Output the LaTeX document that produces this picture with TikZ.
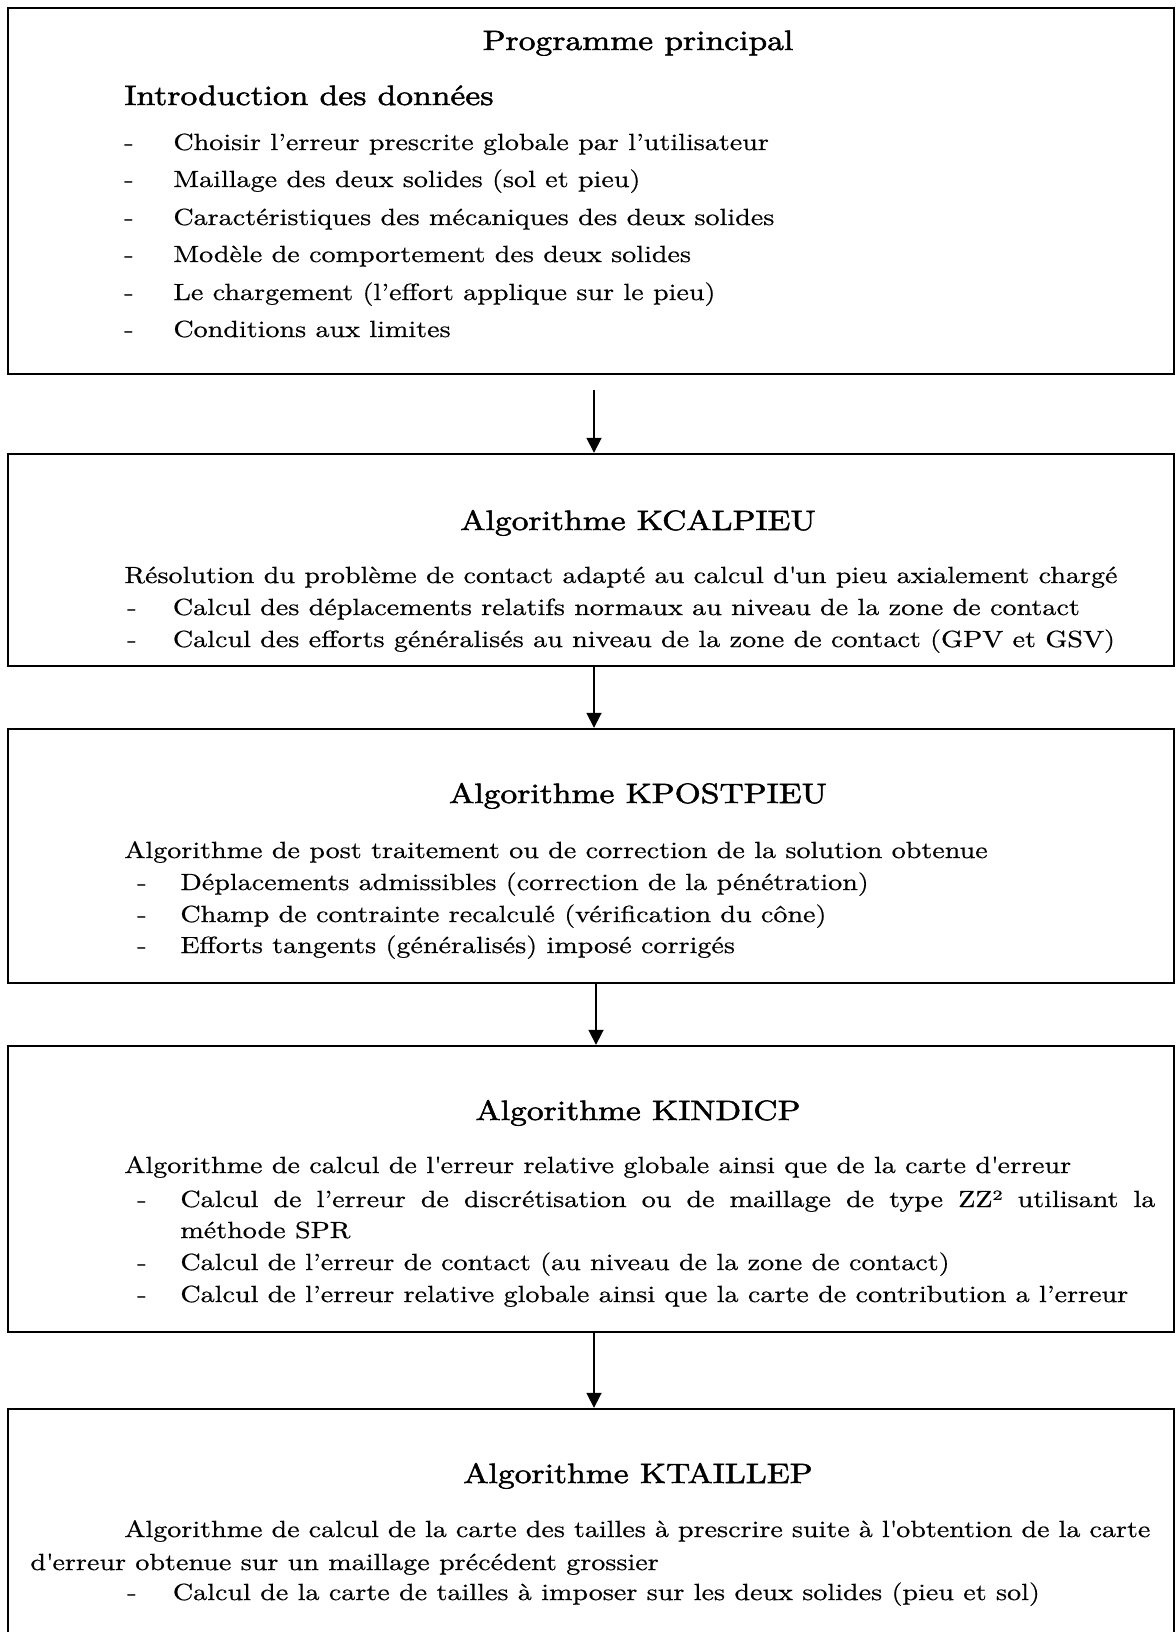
\documentclass[tikz,border=0pt]{standalone}
\usepackage{fontspec}
\setmainfont{lmroman10-regular.otf}[FakeStretch=1.2,FakeBold=0.6]
\newfontfamily\fonttitre{lmroman10-regular.otf}[FakeStretch=1.2,FakeBold=1.8]
\usetikzlibrary{arrows.meta,calc,fit}

\newcommand{\puce}[1]{\makebox[#1][l]{-}}
\newcommand{\apos}{\textquotesingle}

\begin{document}
\begin{tikzpicture}[x=0.5pt,y=-0.5pt,
    box/.style={draw,line width=1.2pt,inner sep=0pt},
    titre/.style={anchor=base,inner sep=0pt,font=\fonttitre\fontsize{14}{17}\selectfont},
    ligne/.style={anchor=base west,inner sep=0pt,font=\fontsize{11.7}{14}\selectfont},
    fleche/.style={-{Triangle[width=7.5pt,length=7.5pt]},line width=0.9pt}]
  \useasboundingbox (0,0) rectangle (1176,1632);
  \clip (0,0) rectangle (1176,1632);

  % les cinq cadres
  \node[box,fit={(8,8) (1174,374)}] (B1) {};
  \node[box,fit={(8,454) (1174,666)}] (B2) {};
  \node[box,fit={(8,729) (1174,983)}] (B3) {};
  \node[box,fit={(8,1046) (1174,1332)}] (B4) {};
  \node[box,fit={(8,1409) (1174,1680)}] (B5) {};

  % programme principal
  \node[titre] (T1) at (638,50) {Programme principal};
  \node[ligne,font=\fonttitre\fontsize{14}{17}\selectfont] (S1) at (124,105) %
    {Introduction des données};
  \node[ligne] (L11) at (124,150) %
    {\puce{24.5pt}Choisir l’erreur prescrite globale par l’utilisateur};
  \node[ligne] (L12) at (124,187) %
    {\puce{24.5pt}Maillage des deux solides (sol et pieu)};
  \node[ligne] (L13) at (124,225) %
    {\puce{24.5pt}Caractéristiques des mécaniques des deux solides};
  \node[ligne] (L14) at (124,262) %
    {\puce{24.5pt}Modèle de comportement des deux solides};
  \node[ligne] (L15) at (124,300) %
    {\puce{24.5pt}Le chargement (l’effort applique sur le pieu)};
  \node[ligne] (L16) at (124,337) %
    {\puce{24.5pt}Conditions aux limites};

  % KCALPIEU
  \node[titre] (T2) at (638,530) {Algorithme KCALPIEU};
  \node[ligne] (L20) at (124,583) %
    {Résolution du problème de contact adapté au calcul d\apos un pieu axialement chargé};
  \node[ligne] (L21) at (127,615) %
    {\puce{22.75pt}Calcul des déplacements relatifs normaux au niveau de la zone de contact};
  \node[ligne] (L22) at (127,647) %
    {\puce{22.75pt}Calcul des efforts généralisés au niveau de la zone de contact (GPV et GSV)};

  % KPOSTPIEU
  \node[titre] (T3) at (638,803) {Algorithme KPOSTPIEU};
  \node[ligne] (L30) at (124,858) %
    {Algorithme de post traitement ou de correction de la solution obtenue};
  \node[ligne] (L31) at (137,890) %
    {\puce{21.5pt}Déplacements admissibles (correction de la pénétration)};
  \node[ligne] (L32) at (137,922) %
    {\puce{21.5pt}Champ de contrainte recalculé (vérification du cône)};
  \node[ligne] (L33) at (137,953) %
    {\puce{21.5pt}Efforts tangents (généralisés) imposé corrigés};

  % KINDICP
  \node[titre] (T4) at (638,1120) {Algorithme KINDICP};
  \node[ligne] (L40) at (124,1173) %
    {Algorithme de calcul de l\apos erreur relative globale ainsi que de la carte d\apos erreur};
  \node[ligne] (L41) at (137,1207) %
    {\puce{21.5pt}\makebox[487.5pt][s]{Calcul de l’erreur de discrétisation ou de maillage de type ZZ² utilisant la}};
  \node[ligne] (L41b) at (180,1238) {méthode SPR};
  \node[ligne] (L42) at (137,1270) %
    {\puce{21.5pt}Calcul de l’erreur de contact (au niveau de la zone de contact)};
  \node[ligne] (L43) at (137,1302) %
    {\puce{21.5pt}Calcul de l’erreur relative globale ainsi que la carte de contribution a l’erreur};

  % KTAILLEP
  \node[titre] (T5) at (638,1483) {Algorithme KTAILLEP};
  \node[ligne] (L50) at (124,1537) %
    {\makebox[513pt][s]{Algorithme de calcul de la carte des tailles à prescrire suite à l\apos obtention de la carte}};
  \node[ligne] (L50b) at (30,1570) %
    {d\apos erreur obtenue sur un maillage précédent grossier};
  \node[ligne] (L51) at (127,1600) %
    {\puce{22.75pt}Calcul de la carte de tailles à imposer sur les deux solides (pieu et sol)};

  % enchainement
  \draw[fleche] ($(B1.south)+(3,15)$) -- ($(B2.north)+(3,0)$);
  \draw[fleche] ($(B2.south)+(3,0)$) -- ($(B3.north)+(3,0)$);
  \draw[fleche] ($(B3.south)+(5,0)$) -- ($(B4.north)+(5,0)$);
  \draw[fleche] ($(B4.south)+(3,0)$) -- ($(B5.north)+(3,0)$);
\end{tikzpicture}
\end{document}
